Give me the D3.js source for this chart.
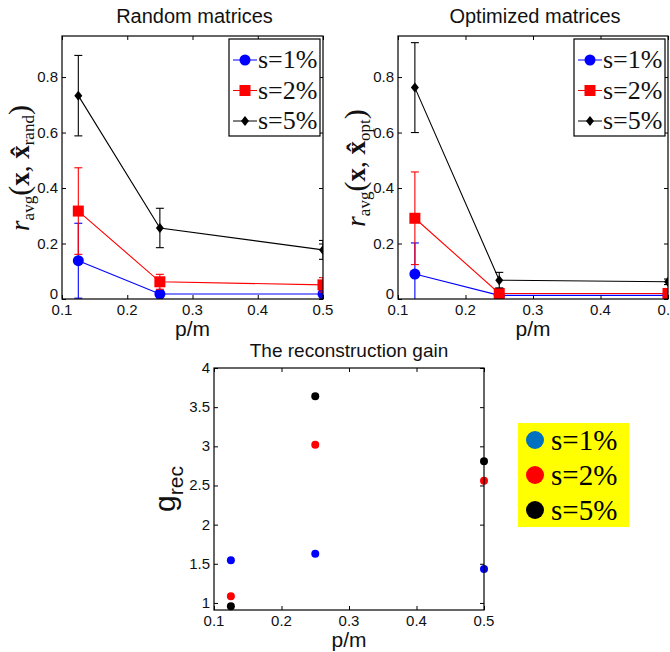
<!DOCTYPE html>
<html lang="en">
<head>
<meta charset="UTF-8" />
<title>Reconstruction gain</title>
<script src="https://d3js.org/d3.v7.min.js"></script>
<style>
    body { margin: 0; background: #fff; }
    text { font-family: "Liberation Sans", Arial, sans-serif; fill: #111; }
</style>
</head>
<body>
<svg width="670" height="652"></svg>
<script>
    // data
    const pm = [0.125, 0.25, 0.5];
    const labels = ["s=1%", "s=2%", "s=5%"];

    const randMean = [
        [0.138, 0.018, 0.018],
        [0.317, 0.062, 0.051],
        [0.733, 0.256, 0.177]
    ];
    const randErr = [
        [0.135, 0.004, 0.004],
        [0.156, 0.027, 0.026],
        [0.145, 0.071, 0.034]
    ];
    const optMean = [
        [0.090, 0.013, 0.013],
        [0.291, 0.020, 0.020],
        [0.762, 0.068, 0.062]
    ];
    const optErr = [
        [0.112, 0.003, 0.003],
        [0.167, 0.004, 0.004],
        [0.162, 0.028, 0.010]
    ];
    const gain = [
        [1.546, 1.627, 1.435],
        [1.085, 3.02, 2.56],
        [0.957, 3.64, 2.81]
    ];

    const colors = ["#0000ff", "#ff0000", "#000000"];
    const legendColors = ["#0070c0", "#ff0000", "#000000"];
    const xTicks = [0.1, 0.2, 0.3, 0.4, 0.5];
    const yTicksTop = [0, 0.2, 0.4, 0.6, 0.8];
    const yTicksGain = [1, 1.5, 2, 2.5, 3, 3.5, 4];

    const serif = '"Liberation Serif", "Times New Roman", serif';
    const svg = d3.select("svg");

    function drawFrame(g, x, y, yTicks, yFmt) {
        const [x0, x1] = x.range();
        const [y0, y1] = y.range();
        g.append("rect")
            .attr("x", x0).attr("y", y1)
            .attr("width", x1 - x0).attr("height", y0 - y1)
            .attr("fill", "none").attr("stroke", "#000").attr("stroke-width", 1.2);

        // inward ticks on all four sides, MATLAB style
        g.append("g").attr("transform", `translate(0,${y0})`)
            .call(d3.axisTop(x).tickValues(xTicks).tickSize(4).tickFormat(""))
            .call(a => a.select(".domain").remove());
        g.append("g").attr("transform", `translate(0,${y1})`)
            .call(d3.axisBottom(x).tickValues(xTicks).tickSize(4).tickFormat(""))
            .call(a => a.select(".domain").remove());
        g.append("g").attr("transform", `translate(${x0},0)`)
            .call(d3.axisRight(y).tickValues(yTicks).tickSize(4).tickFormat(""))
            .call(a => a.select(".domain").remove());
        g.append("g").attr("transform", `translate(${x1},0)`)
            .call(d3.axisLeft(y).tickValues(yTicks).tickSize(4).tickFormat(""))
            .call(a => a.select(".domain").remove());

        g.selectAll(".xlab").data(xTicks).enter().append("text")
            .attr("x", d => x(d)).attr("y", y0 + 16)
            .attr("text-anchor", "middle").attr("font-size", 15)
            .text(d => d3.format(".1f")(d));
        g.selectAll(".ylab").data(yTicks).enter().append("text")
            .attr("x", x0 - 4).attr("y", d => y(d) + (d === 0 ? 0 : 5))
            .attr("text-anchor", "end").attr("font-size", 15)
            .text(yFmt);
    }

    function marker(g, kind, cx, cy, color) {
        if (kind === 0) {
            g.append("circle").attr("cx", cx).attr("cy", cy).attr("r", 5.5).attr("fill", color);
        } else if (kind === 1) {
            g.append("rect").attr("x", cx - 5.5).attr("y", cy - 5.5)
                .attr("width", 11).attr("height", 11).attr("fill", color);
        } else {
            g.append("path").attr("d", `M${cx},${cy - 5}L${cx + 4},${cy}L${cx},${cy + 5}L${cx - 4},${cy}Z`)
                .attr("fill", color);
        }
    }

    function errorPanel(left, right, means, errs, title, sub) {
        const x = d3.scaleLinear().domain([0.1, 0.5]).range([left, right]);
        const y = d3.scaleLinear().domain([0, 0.948]).range([299, 36]);
        const g = svg.append("g");
        const clip = "clip" + left;
        g.append("clipPath").attr("id", clip).append("rect")
            .attr("x", left).attr("y", 36).attr("width", right - left).attr("height", 263);
        const plot = g.append("g").attr("clip-path", `url(#${clip})`);

        const line = d3.line().x((d, i) => x(pm[i])).y(d => y(d));
        means.forEach((s, k) => {
            plot.append("path").attr("d", line(s))
                .attr("fill", "none").attr("stroke", colors[k]).attr("stroke-width", 1.1);
            s.forEach((v, i) => {
                const e = errs[k][i];
                const cx = x(pm[i]);
                plot.append("line").attr("x1", cx).attr("x2", cx)
                    .attr("y1", y(v - e)).attr("y2", y(v + e))
                    .attr("stroke", colors[k]).attr("stroke-width", 1.1);
                [v - e, v + e].forEach(t => {
                    plot.append("line").attr("x1", cx - 4).attr("x2", cx + 4)
                        .attr("y1", y(t)).attr("y2", y(t))
                        .attr("stroke", colors[k]).attr("stroke-width", 1.1);
                });
                marker(plot, k, cx, y(v), colors[k]);
            });
        });

        drawFrame(g, x, y, yTicksTop, d => d === 0 ? "0" : d3.format(".1f")(d));

        g.append("text").attr("x", (left + right) / 2 + 2).attr("y", 23)
            .attr("text-anchor", "middle").attr("font-size", 20).text(title);
        g.append("text").attr("x", (left + right) / 2).attr("y", 336)
            .attr("text-anchor", "middle").attr("font-size", 21).text("p/m");

        // y label r_avg(x, x̂_sub)
        const yl = g.append("text").style("font-family", serif)
            .attr("transform", `translate(${left - 33},168) rotate(-90)`)
            .attr("text-anchor", "middle").attr("font-size", 27);
        yl.append("tspan").attr("font-style", "italic").text("r");
        yl.append("tspan").attr("font-size", 17).attr("dy", 5).text("avg");
        yl.append("tspan").attr("dy", -5).attr("font-size", 30).text("(");
        yl.append("tspan").attr("font-weight", "bold").text("x");
        yl.append("tspan").text(", ");
        yl.append("tspan").attr("font-weight", "bold").text("x\u0302");
        yl.append("tspan").attr("font-size", 17).attr("dy", 5).text(sub);
        yl.append("tspan").attr("dy", -5).attr("font-size", 30).text(")");

        // legend
        const lx = right - 94, ly = 39;
        g.append("rect").attr("x", lx).attr("y", ly).attr("width", 91).attr("height", 97)
            .attr("fill", "#fff").attr("stroke", "#000").attr("stroke-width", 1.2);
        labels.forEach((lab, k) => {
            const cy = ly + 21 + k * 30.5;
            g.append("line").attr("x1", lx + 4).attr("x2", lx + 28)
                .attr("y1", cy).attr("y2", cy).attr("stroke", colors[k]);
            marker(g, k, lx + 16, cy, colors[k]);
            g.append("text").style("font-family", serif).attr("x", lx + 29).attr("y", cy + 8)
                .attr("font-size", 26).text(lab);
        });
    }

    errorPanel(62, 323, randMean, randErr, "Random matrices", "rand");
    errorPanel(398, 668, optMean, optErr, "Optimized matrices", "opt");

    // reconstruction gain panel
    const gx = d3.scaleLinear().domain([0.1, 0.5]).range([214, 484]);
    const gy = d3.scaleLinear().domain([0.91, 4]).range([610, 368]);
    const gg = svg.append("g");
    gain.forEach((s, k) => {
        gg.selectAll(".pt" + k).data(s).enter().append("circle")
            .attr("cx", (d, i) => gx(pm[i])).attr("cy", d => gy(d))
            .attr("r", 4).attr("fill", colors[k]);
    });
    drawFrame(gg, gx, gy, yTicksGain, d => String(d));
    gg.append("text").attr("x", 349).attr("y", 357)
        .attr("text-anchor", "middle").attr("font-size", 19).text("The reconstruction gain");
    gg.append("text").attr("x", 349).attr("y", 647)
        .attr("text-anchor", "middle").attr("font-size", 21).text("p/m");
    const gl = gg.append("text").attr("transform", "translate(175,489) rotate(-90)")
        .attr("text-anchor", "middle").attr("font-size", 30);
    gl.append("tspan").text("g");
    gl.append("tspan").attr("font-size", 21).attr("dy", 8).text("rec");

    // yellow legend
    gg.append("rect").attr("x", 518).attr("y", 423).attr("width", 111).attr("height", 104)
        .attr("fill", "#ffff00");
    labels.forEach((lab, k) => {
        const cy = 440 + k * 35;
        gg.append("circle").attr("cx", 535).attr("cy", cy).attr("r", 9).attr("fill", legendColors[k]);
        gg.append("text").style("font-family", serif).attr("x", 551).attr("y", cy + 10)
            .attr("font-size", 29).style("fill", "#000").text(lab);
    });
</script>
</body>
</html>
